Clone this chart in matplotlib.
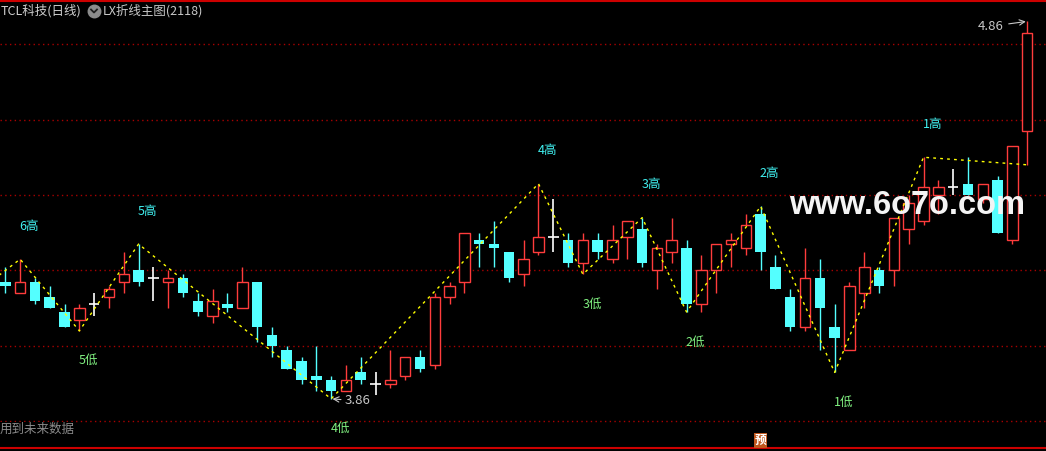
import matplotlib
matplotlib.use('Agg')
import matplotlib.pyplot as plt
from matplotlib.lines import Line2D

plt.rcParams['font.family'] = ['Noto Sans CJK SC', 'DejaVu Sans']

# K线数据
opens = [4.17, 4.14, 4.17, 4.13, 4.09, 4.07, 4.11, 4.13, 4.17, 4.20,
         4.18, 4.17, 4.18, 4.12, 4.08, 4.11, 4.10, 4.17, 4.03, 3.99,
         3.96, 3.92, 3.91, 3.88, 3.93, 3.90, 3.90, 3.92, 3.97, 3.95,
         4.13, 4.17, 4.28, 4.27, 4.25, 4.19, 4.25, 4.29, 4.28, 4.22,
         4.28, 4.23, 4.29, 4.31, 4.20, 4.25, 4.26, 4.11, 4.20, 4.27,
         4.26, 4.35, 4.21, 4.13, 4.05, 4.18, 4.05, 3.99, 4.14, 4.20,
         4.20, 4.31, 4.33, 4.40, 4.42, 4.43, 4.39, 4.44, 4.28, 4.57]
highs = [4.21, 4.23, 4.18, 4.16, 4.11, 4.11, 4.14, 4.16, 4.25, 4.27,
         4.21, 4.20, 4.19, 4.14, 4.15, 4.14, 4.21, 4.17, 4.05, 4.00,
         3.97, 4.00, 3.92, 3.95, 3.97, 3.93, 3.99, 3.97, 3.99, 4.14,
         4.17, 4.30, 4.30, 4.33, 4.25, 4.28, 4.43, 4.39, 4.30, 4.30,
         4.30, 4.32, 4.33, 4.34, 4.27, 4.34, 4.28, 4.24, 4.27, 4.30,
         4.35, 4.37, 4.24, 4.15, 4.26, 4.23, 4.11, 4.17, 4.25, 4.21,
         4.34, 4.40, 4.50, 4.44, 4.47, 4.50, 4.43, 4.45, 4.53, 4.86]
lows = [4.14, 4.14, 4.11, 4.10, 4.05, 4.04, 4.08, 4.10, 4.14, 4.16,
        4.12, 4.10, 4.13, 4.08, 4.06, 4.09, 4.10, 4.01, 3.97, 3.94,
        3.90, 3.88, 3.86, 3.88, 3.90, 3.87, 3.89, 3.91, 3.93, 3.94,
        4.11, 4.14, 4.21, 4.21, 4.17, 4.16, 4.24, 4.25, 4.21, 4.19,
        4.23, 4.22, 4.23, 4.21, 4.15, 4.22, 4.09, 4.09, 4.14, 4.21,
        4.24, 4.20, 4.15, 4.04, 4.04, 3.99, 3.93, 3.99, 4.10, 4.14,
        4.16, 4.27, 4.32, 4.35, 4.40, 4.40, 4.38, 4.30, 4.27, 4.48]
closes = [4.16, 4.17, 4.12, 4.10, 4.05, 4.10, 4.11, 4.15, 4.19, 4.17,
          4.18, 4.18, 4.14, 4.09, 4.12, 4.10, 4.17, 4.05, 4.00, 3.94,
          3.91, 3.91, 3.88, 3.91, 3.91, 3.90, 3.91, 3.97, 3.94, 4.13,
          4.16, 4.30, 4.27, 4.26, 4.18, 4.23, 4.29, 4.29, 4.22, 4.28,
          4.25, 4.28, 4.33, 4.22, 4.26, 4.28, 4.11, 4.20, 4.27, 4.28,
          4.32, 4.25, 4.15, 4.05, 4.18, 4.10, 4.02, 4.16, 4.21, 4.16,
          4.34, 4.38, 4.42, 4.42, 4.42, 4.40, 4.43, 4.30, 4.53, 4.83]

# 折线 (高低点)
zz_idx = [-1, 1, 5, 9, 22, 36, 39, 43, 46, 51, 56, 62, 69]
zz_val = [4.17, 4.23, 4.04, 4.27, 3.86, 4.43, 4.19, 4.34, 4.09, 4.37, 3.93, 4.50, 4.48]
hi_idx = [1, 9, 36, 43, 51, 62]
hi_txt = ['6高', '5高', '4高', '3高', '2高', '1高']
lo_idx = [5, 22, 39, 46, 56]
lo_txt = ['5低', '4低', '3低', '2低', '1低']

grid_levels = [3.8, 4.0, 4.2, 4.4, 4.6, 4.8]

W, H = 1046, 451
RED = '#ff3c3c'
CYAN = '#54ffff'

fig = plt.figure(figsize=(W / 100, H / 100), dpi=100)
fig.patch.set_facecolor('black')
ax = fig.add_axes([0, 0, 1, 1])
ax.set_axis_off()
ax.set_xlim(-0.358, 70.27)
ax.set_ylim(3.7218, 4.9166)


def fx(px):
    return px / W


def fy(py):
    return 1 - py / H


# 网格线
for lv in grid_levels:
    ax.axhline(lv, color='#a80000', linestyle=(0, (1, 2.4)), linewidth=1, zorder=1)

# K线
bw = 0.71
for i in range(len(opens)):
    o, h, l, c = opens[i], highs[i], lows[i], closes[i]
    if c > o:
        ax.vlines(i, l, o, color=RED, linewidth=1, zorder=2)
        ax.vlines(i, c, h, color=RED, linewidth=1, zorder=2)
        ax.bar(i, c - o, bottom=o, width=bw, facecolor='black', edgecolor=RED,
               linewidth=1, zorder=3)
    elif c < o:
        ax.vlines(i, l, h, color=CYAN, linewidth=1, zorder=2)
        ax.bar(i, o - c, bottom=c, width=bw, color=CYAN, linewidth=0, zorder=3)
    else:
        ax.vlines(i, l, h, color='white', linewidth=1.2, zorder=2)
        ax.hlines(o, i - bw / 2, i + bw / 2, color='white', linewidth=1.2, zorder=3)

# 折线
ax.plot(zz_idx, zz_val, color='#ffff00', linestyle=(0, (2, 3)), linewidth=1, zorder=4)

# 高低点标注
for k, t in zip(hi_idx, hi_txt):
    ax.annotate(t, xy=(k, highs[k]), xytext=(9, 33), textcoords='offset pixels',
                ha='center', va='center', color='#40f0f0', fontsize=9, zorder=5)
for k, t in zip(lo_idx, lo_txt):
    ax.annotate(t, xy=(k, lows[k]), xytext=(9, -30), textcoords='offset pixels',
                ha='center', va='center', color='#80f080', fontsize=9, zorder=5)

# 最高最低价
ax.annotate('4.86', xy=(69, 4.86), xytext=(-24, -5), textcoords='offset pixels',
            ha='right', va='center', color='#c8c8c8', fontsize=9.5,
            arrowprops=dict(arrowstyle='->', color='#c8c8c8', lw=0.8,
                            shrinkA=2, shrinkB=1))
ax.annotate('3.86', xy=(22, 3.86), xytext=(14, -2), textcoords='offset pixels',
            ha='left', va='center', color='#c8c8c8', fontsize=9.5,
            arrowprops=dict(arrowstyle='->', color='#c8c8c8', lw=0.8,
                            shrinkA=1, shrinkB=1))

# 水印
fig.text(fx(789), fy(205), 'www.6o7o.com', ha='left', va='center',
         family='Liberation Sans', fontweight='bold', fontsize=23.5,
         color='#f4f4f4', zorder=10)

# 标题
fig.text(fx(1), fy(11), 'TCL科技(日线)', ha='left', va='center',
         color='#d0d0d0', fontsize=9)
fig.add_artist(Line2D([fx(94)], [fy(11)], transform=fig.transFigure, marker='o',
                      markersize=9, color='#8c8c8c', linestyle='none'))
fig.add_artist(Line2D([fx(91), fx(94), fx(97)], [fy(9.5), fy(12.5), fy(9.5)],
                      transform=fig.transFigure, color='#202020', linewidth=1.3))
fig.text(fx(103), fy(11), 'LX折线主图(2118)', ha='left', va='center',
         color='#c8c8c8', fontsize=9)

# 底部
fig.text(fx(0), fy(429), '用到未来数据', ha='left', va='center', color='#8c8c8c',
         fontsize=9, bbox=dict(facecolor='black', edgecolor='none', pad=0.5))
fig.text(fx(760.5), fy(440.5), '预', ha='center', va='center', color='white',
         fontsize=8.5, fontweight='bold',
         bbox=dict(facecolor='#c0561c', edgecolor='none', pad=0.8))

# 上下红线
fig.add_artist(Line2D([0, 1], [fy(0.8), fy(0.8)], transform=fig.transFigure,
                      color='#cc0000', linewidth=1.5))
fig.add_artist(Line2D([0, 1], [fy(448.3), fy(448.3)], transform=fig.transFigure,
                      color='#cc0000', linewidth=1.5))

fig.savefig('out.png', dpi=100, facecolor='black')
